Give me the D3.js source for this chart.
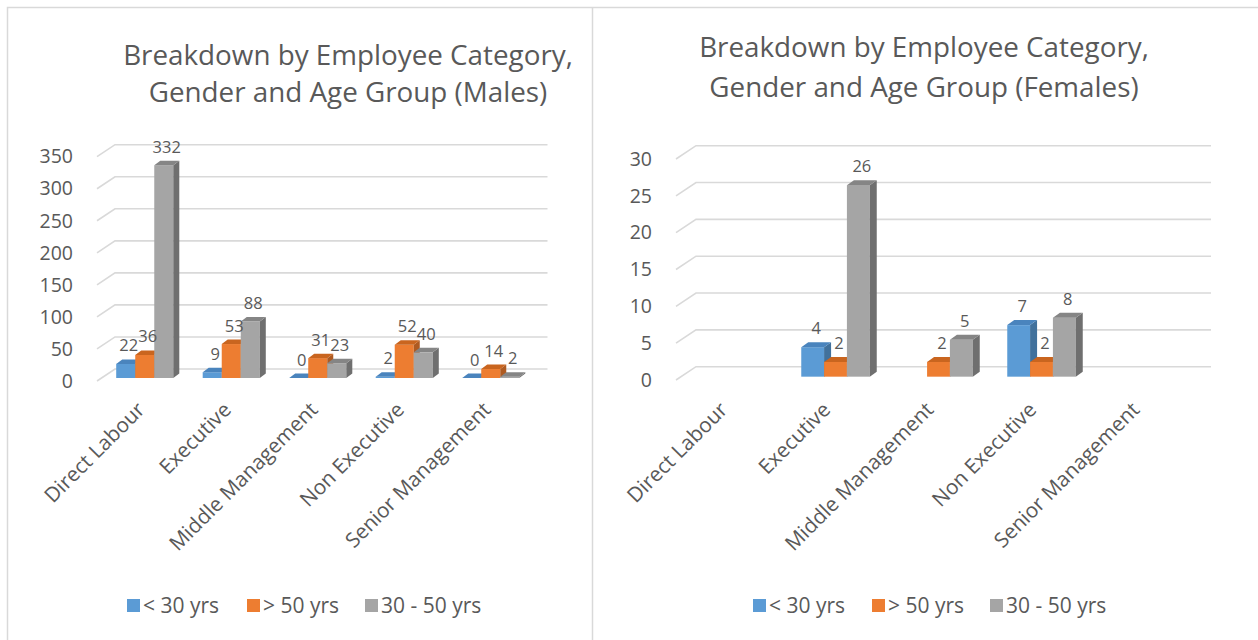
<!DOCTYPE html>
<html>
<head>
<meta charset="utf-8">
<script src="https://cdn.jsdelivr.net/npm/d3@7"></script>
<style>
  body { margin: 0; background: #fff; }
  svg { display: block; font-family: "Open Sans", "Noto Sans", sans-serif; }
  text { fill: #595959; }
</style>
</head>
<body>
<div id="chart"></div>
<script>
// categories and series
const categories = ["Direct Labour", "Executive", "Middle Management", "Non Executive", "Senior Management"];
const series = ["< 30 yrs", "> 50 yrs", "30 - 50 yrs"];
const seriesColors = ["#5b9bd5", "#ed7d31", "#a5a5a5"];
const sideColors = ["#41719c", "#ae5a21", "#6f6f6f"];
const topColors = ["#4a84bd", "#c9651f", "#858585"];

// males
const maleUnder30 = [22, 9, 0, 2, 0];
const maleOver50 = [36, 53, 31, 52, 14];
const male30to50 = [332, 88, 23, 40, 2];
const maleTicks = [0, 50, 100, 150, 200, 250, 300, 350];

// females (blank cells are null, nothing drawn)
const femaleUnder30 = [null, 4, null, 7, null];
const femaleOver50 = [null, 2, 2, 2, null];
const female30to50 = [null, 26, 5, 8, null];
const femaleTicks = [0, 5, 10, 15, 20, 25, 30];

const W = 1258, H = 640;
const svg = d3.select('#chart').append('svg')
    .attr('width', W)
    .attr('height', H);

// panel frames
svg.append('path')
    .attr('d', 'M7.5,' + H + 'V7.5H' + W + 'M592.5,7.5V' + H)
    .attr('fill', 'none')
    .attr('stroke', '#d9d9d9')
    .attr('stroke-width', 1.5);

function drawChart(cfg){
    const g = svg.append('g').attr('class', 'chart');
    const ticks = cfg.ticks;
    const vals = [cfg.s1, cfg.s2, cfg.s3];

    const x = d3.scaleBand()
        .domain(categories)
        .range([cfg.left, cfg.right])
        .paddingInner(cfg.pad)
        .paddingOuter(cfg.pad / 2);
    const xs = d3.scaleBand()
        .domain(series)
        .range([0, x.bandwidth()]);
    const y = d3.scaleLinear()
        .domain([0, d3.max(ticks)])
        .range([cfg.y0, cfg.y0 - cfg.h]);

    // side wall + back wall grid lines
    g.selectAll('path.grid')
        .data(ticks)
        .enter().append('path')
        .attr('class', 'grid')
        .attr('d', t => 'M' + cfg.left + ',' + y(t) +
            'L' + (cfg.left + cfg.wall[0]) + ',' + (y(t) + cfg.wall[1]) +
            'H' + (cfg.right + cfg.wall[0]))
        .attr('fill', 'none')
        .attr('stroke', '#d9d9d9')
        .attr('stroke-width', 1.6);

    // value axis labels
    const yAxis = d3.axisLeft(y).tickValues(ticks).tickSize(0).tickPadding(0);
    g.append('g')
        .attr('class', 'axis')
        .attr('transform', 'translate(' + cfg.labelX + ',0)')
        .call(yAxis)
        .call(a => a.select('.domain').remove())
        .selectAll('text')
        .attr('fill', '#595959')
        .style('font-size', '19.5px')
        .style('font-family', '"Open Sans", sans-serif');

    // bars
    const fx = cfg.wall[0] * cfg.front, fy = cfg.wall[1] * cfg.front;
    const dx = cfg.depth[0], dy = cfg.depth[1];
    const bw = xs.bandwidth();
    const bars = [];
    categories.forEach((c, i) => {
        series.forEach((s, j) => {
            const v = vals[j][i];
            if(v === null) return;
            bars.push({c: c, s: s, j: j, v: v, bx: x(c) + xs(s) + fx});
        });
    });

    const bar = g.selectAll('g.bar')
        .data(bars)
        .enter().append('g')
        .attr('class', 'bar');

    bar.append('rect')
        .attr('x', d => d.bx)
        .attr('y', d => y(d.v) + fy)
        .attr('width', bw)
        .attr('height', d => y(0) - y(d.v))
        .attr('fill', d => seriesColors[d.j]);

    bar.append('path')
        .attr('d', d => {
            const t = y(d.v) + fy, b = y(0) + fy, r = d.bx + bw;
            return 'M' + r + ',' + t + 'L' + (r + dx) + ',' + (t + dy) +
                'L' + (r + dx) + ',' + (b + dy) + 'L' + r + ',' + b + 'Z';
        })
        .attr('fill', d => sideColors[d.j]);

    bar.append('path')
        .attr('d', d => {
            const t = y(d.v) + fy;
            return 'M' + d.bx + ',' + t + 'H' + (d.bx + bw) +
                'L' + (d.bx + bw + dx) + ',' + (t + dy) + 'H' + (d.bx + dx) + 'Z';
        })
        .attr('fill', d => topColors[d.j]);

    // data labels
    g.selectAll('text.value')
        .data(bars)
        .enter().append('text')
        .attr('class', 'value')
        .attr('x', d => d.bx + bw / 2 + dx / 2)
        .attr('y', d => y(d.v) + fy + dy - 8)
        .attr('text-anchor', 'middle')
        .style('font-size', '16.5px')
        .text(d => d.v);

    // category labels
    g.selectAll('text.cat')
        .data(categories)
        .enter().append('text')
        .attr('class', 'cat')
        .attr('transform', c => 'translate(' + (x(c) + x.bandwidth() / 2 + fx + cfg.catDx) + ',' + cfg.catY + ') rotate(-45)')
        .attr('text-anchor', 'end')
        .attr('dy', '0.35em')
        .style('font-size', '20.7px')
        .text(c => c);

    // title
    g.selectAll('text.title')
        .data(cfg.title)
        .enter().append('text')
        .attr('class', 'title')
        .attr('x', cfg.titleX)
        .attr('y', (t, i) => cfg.titleY[i])
        .attr('text-anchor', 'middle')
        .attr('dy', '0.35em')
        .style('font-size', '27.8px')
        .text(t => t);

    // legend
    const leg = g.selectAll('g.legend')
        .data(series)
        .enter().append('g')
        .attr('class', 'legend')
        .attr('transform', (s, i) => 'translate(' + cfg.legendX[i] + ',' + cfg.legendY + ')');
    leg.append('rect')
        .attr('x', 0)
        .attr('y', -7)
        .attr('width', 13)
        .attr('height', 13)
        .attr('fill', (s, i) => seriesColors[i]);
    leg.append('text')
        .attr('x', 16)
        .attr('dy', '0.35em')
        .style('font-size', '21px')
        .text(s => s);
}

drawChart({
    s1: maleUnder30, s2: maleOver50, s3: male30to50, ticks: maleTicks,
    left: 97, right: 529.5, pad: 0.34, y0: 381, h: 224.3,
    wall: [18, -12], front: 0.25, depth: [6, -4.5],
    labelX: 73, catY: 406, catDx: -4,
    title: ["Breakdown by Employee Category,", "Gender and Age Group (Males)"],
    titleX: 348, titleY: [55, 92],
    legendX: [127, 247, 365], legendY: 606
});

drawChart({
    s1: femaleUnder30, s2: femaleOver50, s3: female30to50, ticks: femaleTicks,
    left: 676, right: 1191, pad: 0.335, y0: 380, h: 221,
    wall: [20, -13.3], front: 0.25, depth: [7, -5],
    labelX: 652, catY: 406, catDx: -9,
    title: ["Breakdown by Employee Category,", "Gender and Age Group (Females)"],
    titleX: 924, titleY: [47, 87],
    legendX: [753, 872, 990], legendY: 606
});
</script>
</body>
</html>
